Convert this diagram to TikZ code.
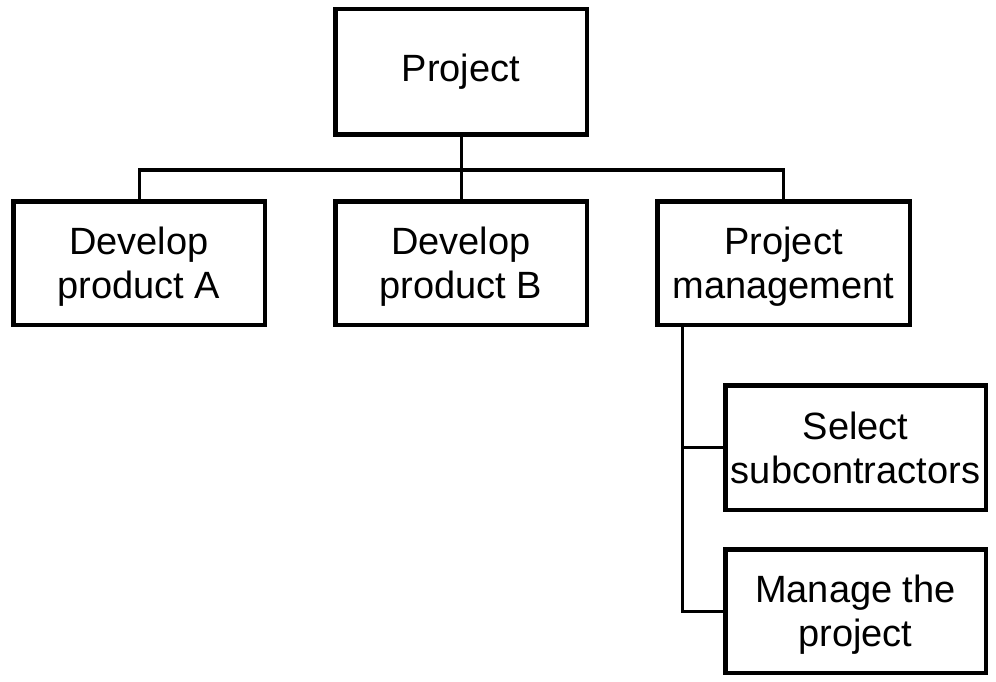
\documentclass[tikz,border=0pt]{standalone}
\usepackage{fontspec}
\setmainfont{Liberation Sans}
\begin{document}
\begin{tikzpicture}[x=1pt,y=-1pt,
  box/.style={draw=black,line width=4.5pt,fill=white,align=center,inner sep=0pt,
    font=\fontsize{38}{44}\selectfont,minimum width=#1},
  box/.default=251.5pt,
  two/.style={text depth=0pt},
  conn/.style={draw=black,line width=3pt}]
\useasboundingbox (0,0) rectangle (996,682);
\node[box,minimum height=125.5pt] (P) at (461,72) {Project};
\node[box,two,minimum height=123.5pt] (A) at (139,263) {Develop\\product A};
\node[box,two,minimum height=123.5pt] (B) at (461,263) {Develop\\product B};
\node[box=252.5pt,two,minimum height=123.5pt] (PM) at (783.5,263) {Project\\management};
\node[box=260.5pt,two,minimum height=124.5pt] (S) at (855.5,447.5) {Select\\subcontractors};
\node[box=260.5pt,two,minimum height=123.5pt] (M) at (855.5,611) {Manage the\\project};
\coordinate (bus) at (461,170);
\coordinate (t) at (682,0);
\draw[conn] (P.south) -- (B.north);
\draw[conn] (A.north) |- (bus) -| (PM.north);
\draw[conn] (t |- PM.south) |- (M.west);
\draw[conn] (t |- S.west) -- (S.west);
\end{tikzpicture}
\end{document}
